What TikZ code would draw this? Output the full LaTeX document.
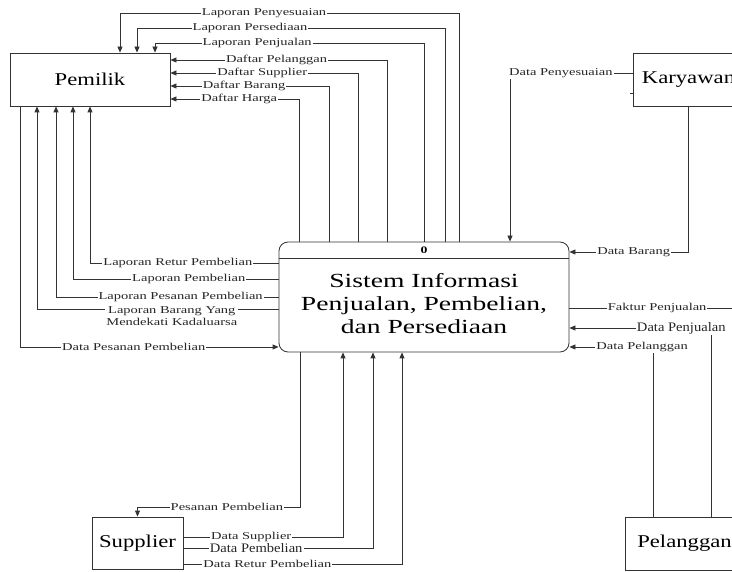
\documentclass[tikz,border=0pt]{standalone}
\usepackage{fontspec}
\setmainfont{Liberation Serif}[FakeStretch=1.38]
\newfontfamily\entityfont{Liberation Serif}[FakeStretch=1.26]
\newfontfamily\plainfont{Liberation Serif}[FakeStretch=1.12]
\usetikzlibrary{arrows.meta}
\begin{document}
\begin{tikzpicture}[x=1pt, y=-1pt,
    flow/.style={draw=black!80, line width=0.8pt},
    arr/.style={flow, -{Triangle[length=6pt, width=5pt]}},
    lbl/.style={fill=white, inner sep=1pt, text=black!85, font=\fontsize{10.5}{12.6}\selectfont},
    biglbl/.style={lbl, font=\plainfont\fontsize{13}{15}\selectfont},
    entity/.style={draw=black!80, line width=0.8pt, inner sep=0pt, font=\entityfont\fontsize{18}{21}\selectfont},
    process/.style={draw=black!80, line width=0.8pt, rounded corners=9pt}]
  \useasboundingbox (0,0) rectangle (732,572);
  \clip (0,0) rectangle (732,572);
  \node[entity, minimum width=160, minimum height=53] (pemilik) at (90,79.5) {Pemilik};
  \node[entity, minimum width=111, minimum height=53] (karyawan) at (688.5,79.5) {Karyawan};
  \node[entity, minimum width=91, minimum height=52] (supplier) at (137.5,543) {Supplier};
  \node[entity, minimum width=119, minimum height=53] (pelanggan) at (684.5,543.5) {Pelanggan};
  \node[process, minimum width=290, minimum height=110] (proc) at (424,297) {};
  \node[font=\bfseries\fontsize{10}{12}\selectfont] (pid) at (424,250) {0};
  \node[align=center, font=\fontsize{20}{23}\selectfont] (title) at (424,304) {Sistem Informasi\\Penjualan, Pembelian,\\dan Persediaan};
  \draw[flow] (proc.west |- 0,258) -- (proc.east |- 0,258);

  \draw[arr] (proc.north -| 459,0) -- (459,13) -- node[lbl, pos=0.575] {Laporan Penyesuaian} (120,13) -- (pemilik.north -| 120,0);
  \draw[arr] (proc.north -| 445,0) -- (445,28) -- node[lbl, pos=0.633] {Laporan Persediaan} (137,28) -- (pemilik.north -| 137,0);
  \draw[arr] (proc.north -| 424,0) -- (424,43) -- node[lbl, pos=0.62] {Laporan Penjualan} (155,43) -- (pemilik.north -| 155,0);
  \draw[arr] (proc.north -| 387,0) -- (387,60) -- node[lbl, pos=0.51] {Daftar Pelanggan} (pemilik.east |- 0,60);
  \draw[arr] (proc.north -| 358,0) -- (358,73) -- node[lbl, pos=0.51] {Daftar Supplier} (pemilik.east |- 0,73);
  \draw[arr] (proc.north -| 329,0) -- (329,86) -- node[lbl, pos=0.535] {Daftar Barang} (pemilik.east |- 0,86);
  \draw[arr] (proc.north -| 299,0) -- (299,99) -- node[lbl, pos=0.465] {Daftar Harga} (pemilik.east |- 0,99);

  \draw[arr] (proc.west |- 0,263) -- node[lbl, pos=0.534] {Laporan Retur Pembelian} (90,263) -- (pemilik.south -| 90,0);
  \draw[arr] (proc.west |- 0,279) -- node[lbl, pos=0.437] {Laporan Pembelian} (73,279) -- (pemilik.south -| 73,0);
  \draw[arr] (proc.west |- 0,297) -- node[lbl, pos=0.44] {Laporan Pesanan Pembelian} (56,297) -- (pemilik.south -| 56,0);
  \draw[arr] (proc.west |- 0,309) -- node[lbl, pos=0.442, yshift=-7, align=center] {Laporan Barang Yang\\Mendekati Kadaluarsa} (37,309) -- (pemilik.south -| 37,0);
  \draw[arr] (pemilik.south -| 20,0) -- (20,347) -- node[lbl, pos=0.44] {Data Pesanan Pembelian} (proc.west |- 0,347);

  \draw[arr] (proc.south -| 300,0) -- (300,507) -- node[lbl, pos=0.45] {Pesanan Pembelian} (137.5,507) -- (supplier.north);
  \draw[arr] (supplier.east |- 0,537) -- node[lbl, pos=0.425] {Data Supplier} (343,537) -- (proc.south -| 343,0);
  \draw[arr] (supplier.east |- 0,548) -- node[biglbl, pos=0.384] {Data Pembelian} (373,548) -- (proc.south -| 373,0);
  \draw[arr] (supplier.east |- 0,564) -- node[lbl, pos=0.384] {Data Retur Pembelian} (402,564) -- (proc.south -| 402,0);

  \draw[arr] (karyawan.west |- 0,73) -- node[lbl, pos=0.585] {Data Penyesuaian} (510,73) -- (proc.north -| 510,0);
  \draw[flow] (karyawan.west |- 0,93) -- ++(-3,0);
  \draw[arr] (karyawan.south) -- (688.5,252) -- node[lbl, pos=0.46] {Data Barang} (proc.east |- 0,252);
  \draw[arr] (proc.east |- 0,308) -- node[lbl, pos=0.53] {Faktur Penjualan} (735,308) -- (pelanggan.north -| 735,0);
  \draw[arr] (pelanggan.north -| 711,0) -- (711,328) -- node[biglbl, pos=0.21] {Data Penjualan} (proc.east |- 0,328);
  \draw[arr] (pelanggan.north -| 653,0) -- (653,347) -- node[lbl, pos=0.13] {Data Pelanggan} (proc.east |- 0,347);
\end{tikzpicture}
\end{document}
